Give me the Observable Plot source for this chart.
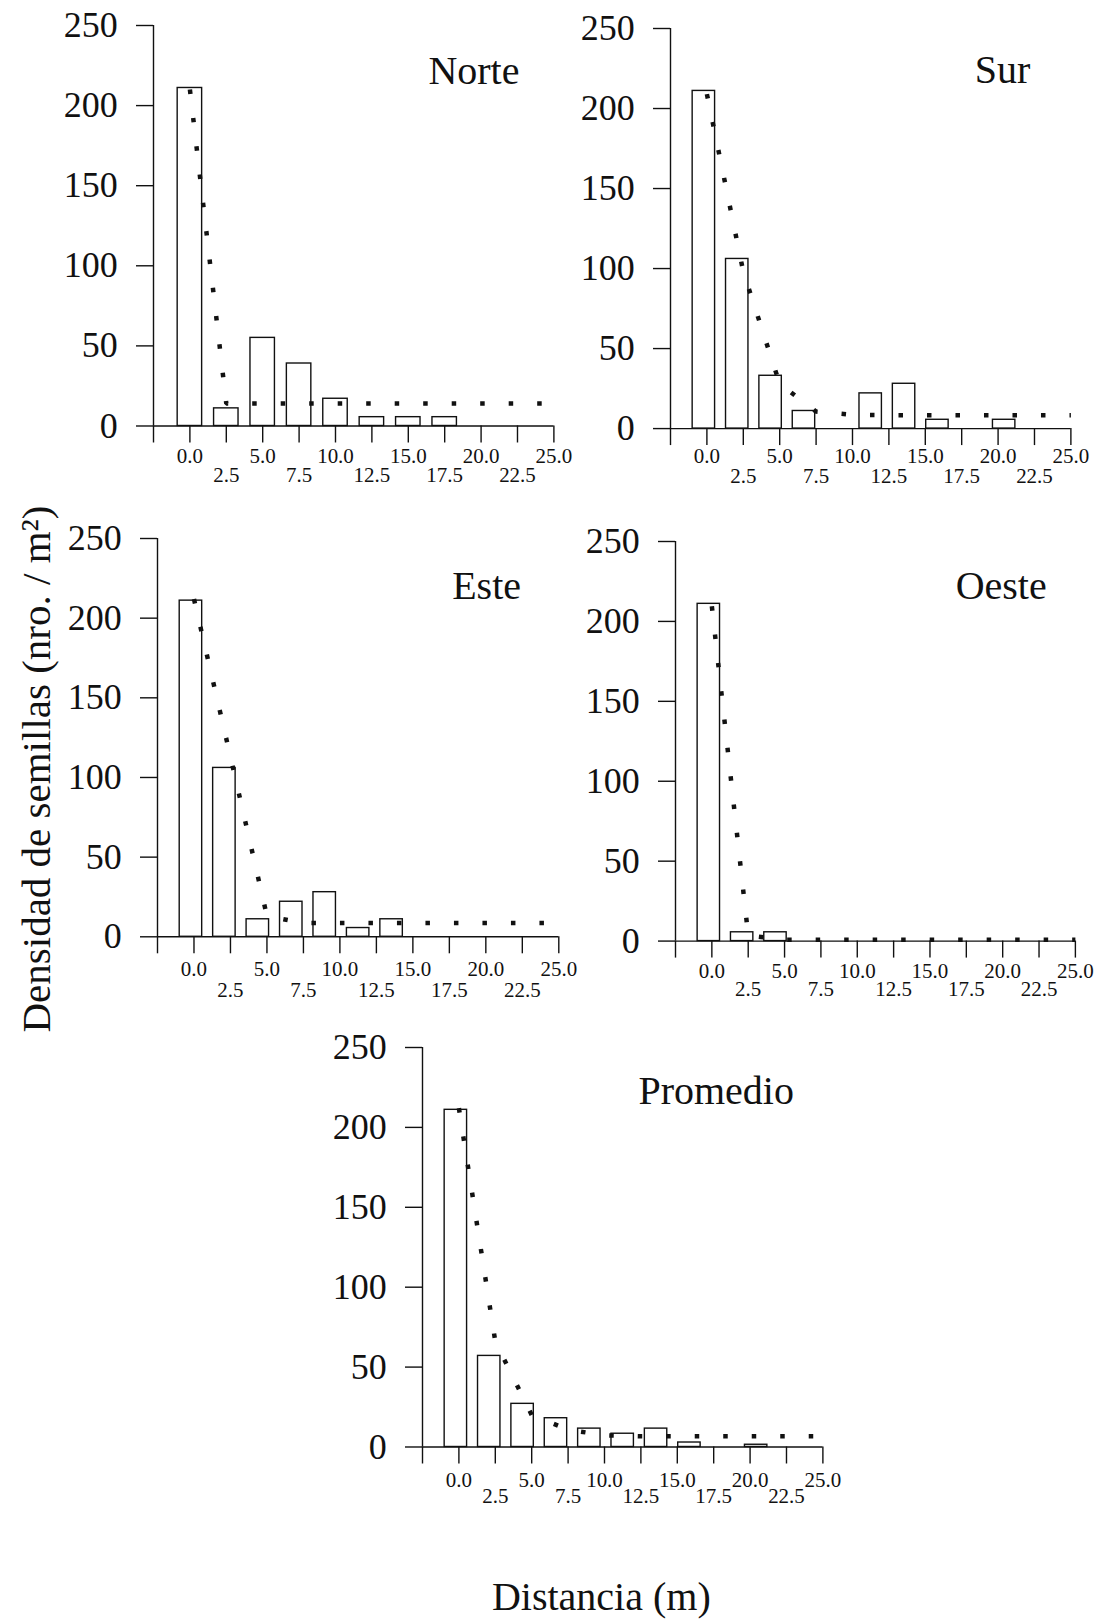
<!DOCTYPE html>
<html>
<head>
<meta charset="utf-8">
<script src="https://cdn.jsdelivr.net/npm/d3@7"></script>
<script src="https://cdn.jsdelivr.net/npm/@observablehq/plot@0.6"></script>
<style>
  html, body { margin: 0; padding: 0; background: #fff; }
  #fig { position: relative; width: 1100px; height: 1621px; background: #fff; overflow: hidden;
         font-family: "Liberation Serif", "Times New Roman", serif; color: #111; }
  #fig svg { position: absolute; }
  .titulo { position: absolute; white-space: nowrap; line-height: 1; color: #111; }
</style>
</head>
<body>
<div id="fig"></div>
<script>
// ---------------- Datos ----------------
const distancias = [0, 2.5, 5, 7.5, 10, 12.5, 15, 17.5, 20, 22.5];
const distanciasAjuste = [0, 2.5, 5, 7.5, 10, 12.5, 15, 17.5, 20, 22.5, 25];
const ticksX = [-2.5, 0, 2.5, 5, 7.5, 10, 12.5, 15, 17.5, 20, 22.5, 25];
const etiquetasFila1 = [0, 5, 10, 15, 20, 25];
const etiquetasFila2 = [2.5, 7.5, 12.5, 17.5, 22.5];
const ticksY = [0, 50, 100, 150, 200, 250];
const dominioX = [-2.5, 25];
const dominioY = [0, 250];

const norteObs    = [211, 11, 55, 39, 17, 5.5, 5.5, 5.5, 0, 0];
const norteAjuste = [210, 14, 14, 14, 14, 14, 14, 14, 14, 14, 14];

const surObs    = [211, 106, 33, 11, 0, 22, 28, 5.5, 0, 5.5];
const surAjuste = [209, 98, 28, 10.6, 8.6, 8.3, 8.3, 8.3, 8.3, 8.3, 8.3];

const esteObs    = [211, 106, 11, 22, 28, 5.5, 11, 0, 0, 0];
const esteAjuste = [212, 113, 13, 8.6, 8.6, 8.6, 8.6, 8.6, 8.6, 8.6, 8.6];

const oesteObs    = [211, 5.5, 5.5, 0, 0, 0, 0, 0, 0, 0];
const oesteAjuste = [209.5, 3.5, 0.8, 0.8, 0.8, 0.8, 0.8, 0.8, 0.8, 0.8, 0.8];

const promedioObs    = [211, 57, 27, 18, 11.5, 8.3, 11.5, 2.8, 0, 1.4];
const promedioAjuste = [212, 66, 20, 10.8, 7.3, 6.7, 6.7, 6.7, 6.7, 6.7, 6.7];

// ---------------- Diseño ----------------
const paneles = [
  {nombre: "Norte", obs: norteObs, ajuste: norteAjuste, dominioBarras: [-2.5, 25],
   x0: 152.6, x1: 553.0, yTop: 24.5, yBase: 425.0, fila1: 22, fila2: 41, tdx: -34.4, tdy: 30.4},
  {nombre: "Sur", obs: surObs, ajuste: surAjuste, dominioBarras: [-2.5, 27.5],
   x0: 670.2, x1: 1070.6, yTop: 27.7, yBase: 427.8, fila1: 19.5, fila2: 39.5, tdx: -40.5, tdy: 25.6},
  {nombre: "Este", obs: esteObs, ajuste: esteAjuste, dominioBarras: [-2.5, 27.5],
   x0: 157.0, x1: 558.3, yTop: 537.7, yBase: 936.0, fila1: 24, fila2: 45.5, tdx: -37.8, tdy: 31.6},
  {nombre: "Oeste", obs: oesteObs, ajuste: oesteAjuste, dominioBarras: [-2.5, 27.5],
   x0: 674.8, x1: 1074.7, yTop: 540.7, yBase: 940.3, fila1: 21.5, fila2: 40, tdx: -28.7, tdy: 29.2},
  {nombre: "Promedio", obs: promedioObs, ajuste: promedioAjuste, dominioBarras: [-2.5, 27.5],
   x0: 422.4, x1: 822.8, yTop: 1046.7, yBase: 1446.2, fila1: 25, fila2: 41, tdx: -29, tdy: 27.6}
];

const semiAncho = 0.84;
const tinta = "#111";
const fuente = '"Liberation Serif", "Times New Roman", serif';
const fmt = d3.format(".1f");
const mL = 120, mR = 30, mT = 10, mB = 80;
const fig = document.getElementById("fig");

function estilo() {
  return {fontFamily: fuente, background: "transparent", overflow: "visible", color: tinta};
}

for (const p of paneles) {
  const w = p.x1 - p.x0 + mL + mR;
  const h = p.yBase - p.yTop + mT + mB;
  const barras = distancias.map((d, i) => ({d, v: p.obs[i]})).filter(r => r.v > 0);
  const ajuste = distanciasAjuste.map((d, i) => ({d, v: p.ajuste[i]}));

  const svgBarras = Plot.plot({
    width: w, height: h, marginLeft: mL, marginRight: mR, marginTop: mT, marginBottom: mB,
    style: estilo(),
    x: {domain: p.dominioBarras, axis: null},
    y: {domain: dominioY, axis: null},
    marks: [
      Plot.rect(barras, {x1: r => r.d - semiAncho, x2: r => r.d + semiAncho, y1: 0, y2: "v",
        fill: "white", stroke: tinta, strokeWidth: 1.4})
    ]
  });

  const svgEjes = Plot.plot({
    width: w, height: h, marginLeft: mL, marginRight: mR, marginTop: mT, marginBottom: mB,
    style: estilo(),
    x: {domain: dominioX, label: null},
    y: {domain: dominioY, label: null},
    marks: [
      Plot.ruleX([dominioX[0]], {stroke: tinta, strokeWidth: 1.4}),
      Plot.ruleY([dominioY[0]], {stroke: tinta, strokeWidth: 1.4}),
      Plot.axisY({ticks: ticksY, tickSize: 17, tickPadding: 18.7, fontSize: 36,
        stroke: tinta, fill: tinta, strokeWidth: 1.4, label: null}),
      Plot.axisX({ticks: ticksX, tickSize: 17, fill: "none", stroke: tinta, strokeWidth: 1.4, label: null}),
      Plot.axisX({ticks: etiquetasFila1, tickSize: 0, tickPadding: p.fila1, tickFormat: fmt,
        fontSize: 21, fill: tinta, label: null}),
      Plot.axisX({ticks: etiquetasFila2, tickSize: 0, tickPadding: p.fila2, tickFormat: fmt,
        fontSize: 21, fill: tinta, label: null}),
      Plot.line(ajuste, {x: "d", y: "v", stroke: tinta, strokeWidth: 4.5,
        strokeDasharray: "4.5,24", strokeLinecap: "butt", strokeLinejoin: "miter"}),
      Plot.text([p.nombre], {frameAnchor: "top-right", dx: p.tdx, dy: p.tdy, textAnchor: "end",
        lineAnchor: "top", fontSize: 40, fill: tinta})
    ]
  });

  for (const s of [svgBarras, svgEjes]) {
    s.style.position = "absolute";
    s.style.left = (p.x0 - mL) + "px";
    s.style.top = (p.yTop - mT) + "px";
    s.style.maxWidth = "none";
    fig.appendChild(s);
  }
}

// Títulos de los ejes
const tituloY = document.createElement("div");
tituloY.className = "titulo";
tituloY.textContent = "Densidad de semillas (nro. / m²)";
Object.assign(tituloY.style, {left: "36.2px", top: "768.5px", fontSize: "41px",
  transform: "translate(-50%, -50%) rotate(-90deg)"});
fig.appendChild(tituloY);

const tituloX = document.createElement("div");
tituloX.className = "titulo";
tituloX.textContent = "Distancia (m)";
Object.assign(tituloX.style, {left: "601.3px", top: "1576.5px", fontSize: "40px",
  transform: "translateX(-50%)"});
fig.appendChild(tituloX);
</script>
</body>
</html>
